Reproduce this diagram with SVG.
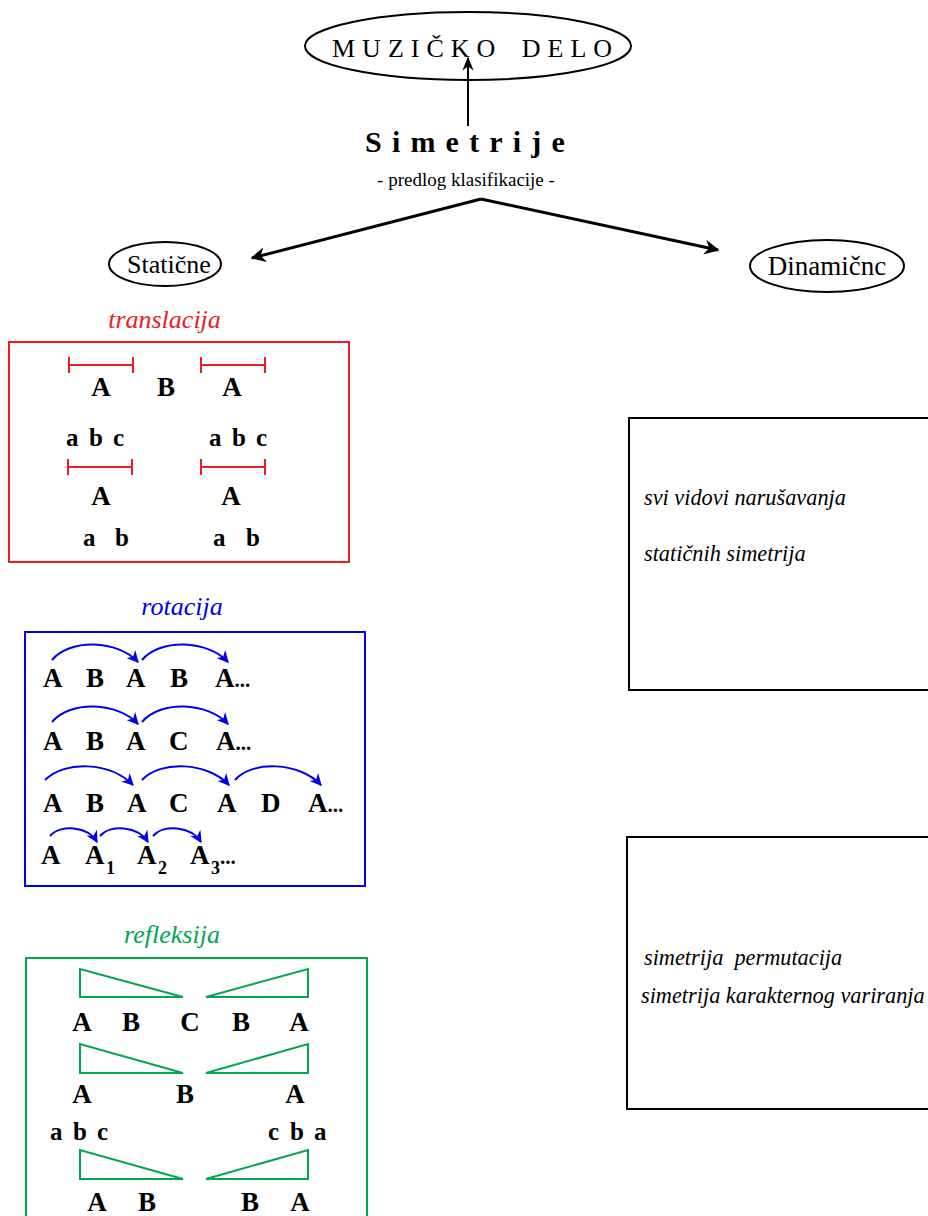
<svg xmlns="http://www.w3.org/2000/svg" width="928" height="1216" viewBox="0 0 928 1216">
<style>
text{font-family:"Liberation Serif","Times New Roman",serif;fill:#000}
.b{font-weight:bold;font-size:27px}
.s{font-weight:bold;font-size:25px}
.d{font-weight:bold;font-size:21px}
.sub{font-weight:bold;font-size:18px}
.i{font-style:italic;font-size:22.3px}
.t{font-style:italic;font-size:26px}
.red{stroke:#ee1c25;stroke-width:2;fill:none}
.blue{stroke:#0000ee;stroke-width:2;fill:none}
.green{stroke:#00a650;stroke-width:2;fill:none}
.blk{stroke:#000;stroke-width:2;fill:none}
</style>
<defs>
<marker id="ah" viewBox="0 0 10 10" refX="9" refY="5" markerWidth="5" markerHeight="5" orient="auto"><path d="M0,0L10,5L0,10L3,5z" fill="#000"/></marker>
<marker id="ahs" viewBox="0 0 10 10" refX="9" refY="5" markerWidth="7" markerHeight="7" orient="auto"><path d="M0,1L10,5L0,9L3,5z" fill="#000"/></marker>
<marker id="bh" viewBox="0 0 10 10" refX="9" refY="5" markerWidth="6" markerHeight="6" orient="auto"><path d="M0,0L10,5L0,10L3,5z" fill="#0000ee"/></marker>
</defs>

<g id="connectors">
<line x1="468" y1="126" x2="468" y2="58" stroke="#000" stroke-width="2" marker-end="url(#ahs)"/>
<line x1="481" y1="199" x2="252" y2="258" stroke="#000" stroke-width="3" marker-end="url(#ah)"/>
<line x1="481" y1="199" x2="718" y2="250" stroke="#000" stroke-width="3" marker-end="url(#ah)"/>
</g>

<g id="muzicko-delo">
<ellipse cx="468" cy="46" rx="163" ry="34" class="blk"/>
<text x="332" y="57" font-size="26" letter-spacing="7" word-spacing="6">MUZIČKO DELO</text>
</g>

<g id="simetrije">
<text x="365" y="152" font-size="30" font-weight="bold" letter-spacing="10.2">Simetrije</text>
<text x="466" y="186" font-size="19" text-anchor="middle">- predlog klasifikacije -</text>
</g>

<g id="staticne">
<ellipse cx="165" cy="264" rx="56" ry="22" class="blk"/>
<text x="169" y="273" font-size="26" text-anchor="middle">Statične</text>
</g>

<g id="dinamicne">
<ellipse cx="827" cy="266" rx="77" ry="26" class="blk"/>
<text x="827" y="275" font-size="27" text-anchor="middle">Dinamičnc</text>
</g>

<g id="translacija">
<text x="164.5" y="328" class="t" text-anchor="middle" style="fill:#ee1c25">translacija</text>
<rect x="9" y="342" width="340" height="220" class="red"/>
<path class="red" d="M69,365H133M69,357V373M133,357V373M201,365H265M201,357V373M265,357V373M68,467H132M68,459V475M132,459V475M201,467H265M201,459V475M265,459V475"/>
<text class="b" x="101" y="396" text-anchor="middle">A</text>
<text class="b" x="166" y="396" text-anchor="middle">B</text>
<text class="b" x="232" y="396" text-anchor="middle">A</text>
<text class="s" y="446"><tspan x="66">a</tspan><tspan x="89">b</tspan><tspan x="113">c</tspan></text>
<text class="s" y="446"><tspan x="209">a</tspan><tspan x="232">b</tspan><tspan x="256">c</tspan></text>
<text class="b" x="101" y="505" text-anchor="middle">A</text>
<text class="b" x="231" y="505" text-anchor="middle">A</text>
<text class="s" y="546"><tspan x="83">a</tspan><tspan x="115">b</tspan></text>
<text class="s" y="546"><tspan x="213">a</tspan><tspan x="246">b</tspan></text>
</g>

<g id="rotacija">
<text x="182" y="615" class="t" text-anchor="middle" style="fill:#0000ee">rotacija</text>
<rect x="25" y="632" width="340" height="254" class="blue"/>
<path class="blue" marker-end="url(#bh)" d="M52,660C70,638 118,640 138,662"/>
<path class="blue" marker-end="url(#bh)" d="M142,660C160,638 208,640 228,662"/>
<path class="blue" marker-end="url(#bh)" d="M52,722C70,700 118,702 138,724"/>
<path class="blue" marker-end="url(#bh)" d="M142,722C160,700 208,702 228,724"/>
<path class="blue" marker-end="url(#bh)" d="M45,780C65,760 110,762 133,785"/>
<path class="blue" marker-end="url(#bh)" d="M142,780C160,760 208,762 229,785"/>
<path class="blue" marker-end="url(#bh)" d="M235,780C252,760 300,762 321,785"/>
<path class="blue" marker-end="url(#bh)" d="M50,836C60,824 88,826 97,842"/>
<path class="blue" marker-end="url(#bh)" d="M100,836C110,824 138,826 148,842"/>
<path class="blue" marker-end="url(#bh)" d="M153,836C163,824 191,826 201,842"/>
<text class="b" y="687"><tspan x="43">A</tspan><tspan x="86">B</tspan><tspan x="126">A</tspan><tspan x="170">B</tspan><tspan x="215">A</tspan><tspan class="d">...</tspan></text>
<text class="b" y="750"><tspan x="43">A</tspan><tspan x="86">B</tspan><tspan x="126">A</tspan><tspan x="169">C</tspan><tspan x="216">A</tspan><tspan class="d">...</tspan></text>
<text class="b" y="812"><tspan x="43">A</tspan><tspan x="86">B</tspan><tspan x="127">A</tspan><tspan x="169">C</tspan><tspan x="217">A</tspan><tspan x="261">D</tspan><tspan x="308">A</tspan><tspan class="d">...</tspan></text>
<text class="b" y="864"><tspan x="41">A</tspan><tspan x="85">A</tspan><tspan class="sub" x="106" dy="10">1</tspan><tspan x="137" dy="-10">A</tspan><tspan class="sub" x="158" dy="10">2</tspan><tspan x="190" dy="-10">A</tspan><tspan class="sub" x="211" dy="10">3</tspan><tspan class="d" dy="-10">...</tspan></text>
</g>

<g id="refleksija">
<text x="172" y="943" class="t" text-anchor="middle" style="fill:#00a650">refleksija</text>
<path class="green" d="M26,1220V958H367V1220"/>
<path class="green" d="M80,969V997H183Z M308,969V997H206Z"/>
<path class="green" d="M80,1044V1073H183Z M308,1044V1073H206Z"/>
<path class="green" d="M80,1150V1179H183Z M308,1150V1179H206Z"/>
<text class="b" y="1031" text-anchor="middle"><tspan x="82">A</tspan><tspan x="131">B</tspan><tspan x="190">C</tspan><tspan x="241">B</tspan><tspan x="299">A</tspan></text>
<text class="b" y="1103" text-anchor="middle"><tspan x="82">A</tspan><tspan x="185">B</tspan><tspan x="295">A</tspan></text>
<text class="s" y="1140"><tspan x="50">a</tspan><tspan x="73">b</tspan><tspan x="97">c</tspan></text>
<text class="s" y="1140"><tspan x="268">c</tspan><tspan x="290">b</tspan><tspan x="314">a</tspan></text>
<text class="b" y="1211" text-anchor="middle"><tspan x="97">A</tspan><tspan x="147">B</tspan><tspan x="250">B</tspan><tspan x="300">A</tspan></text>
</g>

<g id="dinamicne-1">
<rect x="629" y="418" width="310" height="272" class="blk"/>
<text class="i" x="644" y="505">svi vidovi narušavanja</text>
<text class="i" x="644" y="561">statičnih simetrija</text>
</g>

<g id="dinamicne-2">
<rect x="627" y="837" width="312" height="272" class="blk"/>
<text class="i" x="644" y="965" xml:space="preserve">simetrija  permutacija</text>
<text class="i" x="641" y="1003">simetrija karakternog variranja</text>
</g>
</svg>
